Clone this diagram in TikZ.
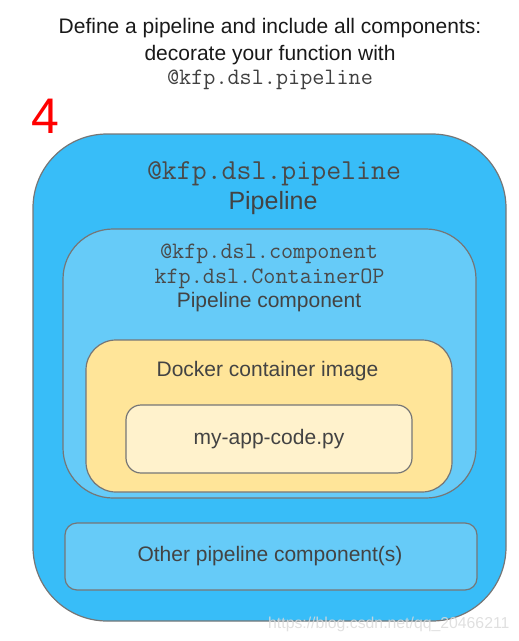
\documentclass[tikz,border=0pt]{standalone}
\usepackage{fontspec}
\setmainfont{Liberation Sans}
\usepackage{xcolor}
\definecolor{skyblue}{HTML}{38BDF8}
\definecolor{lightblue}{HTML}{66CBF8}
\definecolor{dockeryellow}{HTML}{FFE599}
\definecolor{codecream}{HTML}{FFF2CC}
\definecolor{edgegray}{HTML}{767676}
\definecolor{textgray}{HTML}{434343}
\definecolor{monogray}{HTML}{4A4A4A}
\definecolor{markgray}{HTML}{DADADA}

\begin{document}
\begin{tikzpicture}[x=1pt,y=-1pt,
      box/.style={rectangle,draw=edgegray,line width=1.2pt,inner sep=0,outer sep=0},
      outer box/.style={box,fill=skyblue,rounded corners=74pt,minimum width=473pt,minimum height=487pt},
      comp box/.style={box,fill=lightblue,rounded corners=50pt},
      docker box/.style={box,fill=dockeryellow,rounded corners=30pt,minimum width=366pt,minimum height=152pt},
      code box/.style={box,fill=codecream,rounded corners=15pt,minimum width=286pt,minimum height=68pt},
      label/.style={anchor=base,inner sep=0,text=textgray,font=\fontsize{21}{25}\selectfont},
      mono/.style={anchor=base,inner sep=0,text=monogray,font=\ttfamily\fontsize{23.5}{26}\selectfont}]

    \useasboundingbox (0,0) rectangle (519,641);

    % heading
    \node[label,text=black!90] (head1) at (270,33) {Define a pipeline and include all components:};
    \node[label,text=black!90] (head2) at (270,60) {decorate your function with};
    \node[mono,text=black!75] (head3) at (270,84) {@kfp.dsl.pipeline};
    \node[anchor=base west,inner sep=0,text=red,font=\fontsize{50}{50}\selectfont] (step4) at (31,133) {4};

    % nested boxes
    \node[outer box] (pipe) at (269.5,377.5) {};
    \node[comp box,minimum width=413pt,minimum height=269pt] (comp) at (269.5,363.5) {};
    \node[docker box] (dock) at (269,416) {};
    \node[code box] (code) at (269,439) {};
    \node[comp box,rounded corners=12pt,minimum width=412pt,minimum height=67pt] (other) at (271,556.5) {};

    % texts
    \node[mono,font=\ttfamily\fontsize{29}{32}\selectfont] (pipedec) at (274,179) {@kfp.dsl.pipeline};
    \node[label,font=\fontsize{25}{28}\selectfont] (pipename) at (273,209) {Pipeline};
    \node[mono] (compdec) at (269,258) {@kfp.dsl.component};
    \node[mono] (compop) at (269.5,283) {kfp.dsl.ContainerOP};
    \node[label] (compname) at (269,307) {Pipeline component};
    \node[label] (dockname) at (267.5,376) {Docker container image};
    \node[label] at (code) [anchor=center] (codename) {my-app-code.py};
    \node[label] (othername) at (270,561) {Other pipeline component(s)};

    \node[anchor=base west,inner sep=0,text=markgray,opacity=0.85,font=\fontsize{15.8}{18}\selectfont] (mark) at (268,628) {https://blog.csdn.net/qq\_20466211};
  \end{tikzpicture}
\end{document}
